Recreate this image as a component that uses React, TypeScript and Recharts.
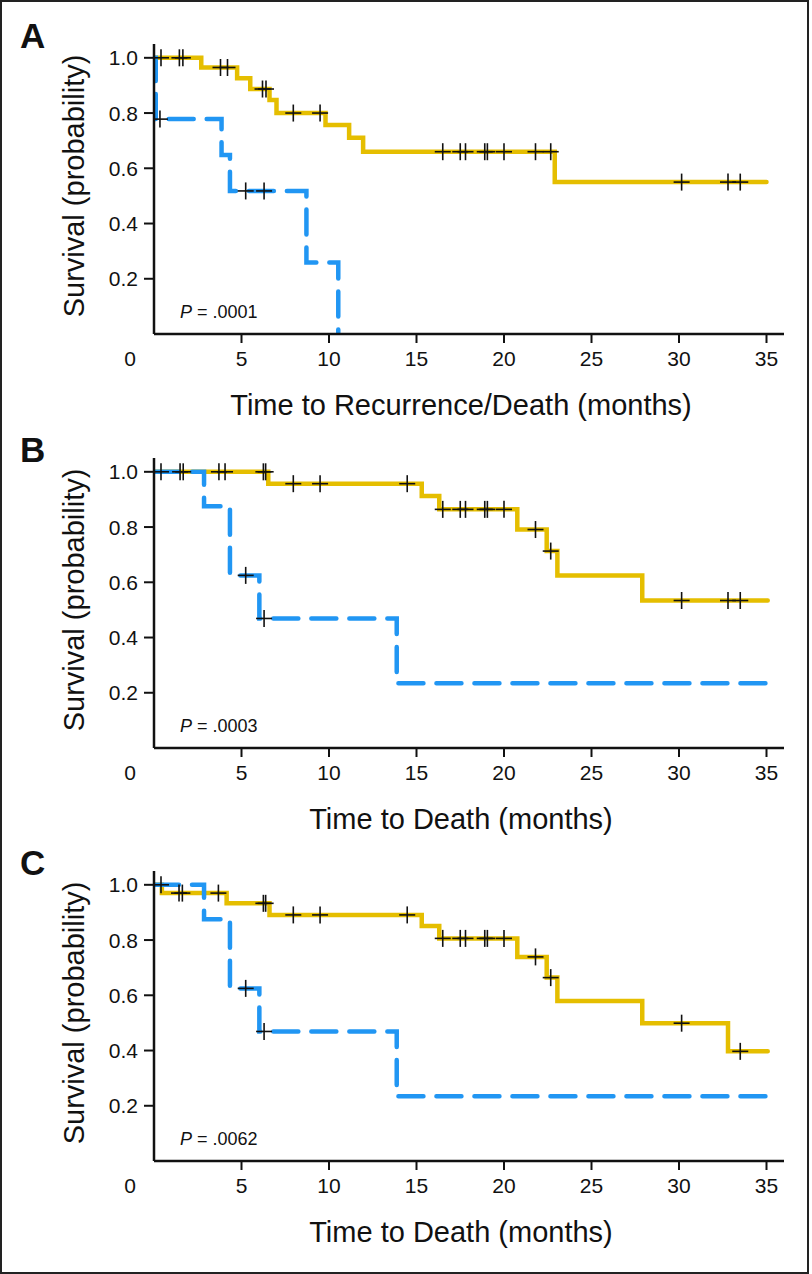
import React from 'react';
import { ComposedChart, Line, Scatter, XAxis, YAxis, Customized } from 'recharts';

// ---------- data ----------
const xTicks = [0, 5, 10, 15, 20, 25, 30, 35];
const yTicks = [0.2, 0.4, 0.6, 0.8, 1.0];

// Panel A
const aGoldTime = [0, 2.7, 4.75, 5.5, 6.6, 7.0, 9.8, 11.15, 11.95, 22.9, 35];
const aGoldSurv = [1, 0.965, 0.926, 0.887, 0.847, 0.8, 0.757, 0.711, 0.66, 0.55, 0.55];
const aBlueTime = [0, 0.1, 3.86, 4.34, 8.71, 10.53];
const aBlueSurv = [1, 0.778, 0.648, 0.518, 0.259, 0];
const aCensorTime = [0.4, 1.45, 1.65, 3.8, 4.2, 6.2, 6.4, 7.96, 9.49, 16.5, 17.5, 17.8, 18.9, 19.05, 20.0, 21.8, 22.67, 30.15, 32.8, 33.5, 0.34, 5.24, 6.29];
const aCensorSurv = [1, 1, 1, 0.965, 0.965, 0.887, 0.887, 0.8, 0.8, 0.66, 0.66, 0.66, 0.66, 0.66, 0.66, 0.66, 0.66, 0.55, 0.55, 0.55, 0.778, 0.518, 0.518];

// Panel B
const bGoldTime = [0, 6.53, 15.3, 16.3, 20.76, 22.44, 23.05, 27.9, 35.07];
const bGoldSurv = [1, 0.957, 0.912, 0.864, 0.791, 0.713, 0.625, 0.534, 0.534];
const bBlueTime = [0, 2.86, 4.34, 6.02, 13.87, 35];
const bBlueSurv = [1, 0.875, 0.625, 0.469, 0.234, 0.234];
const bCensorTime = [0.4, 1.49, 1.67, 3.71, 4.06, 6.25, 6.38, 7.96, 9.49, 14.47, 16.5, 17.5, 17.8, 18.9, 19.05, 20.0, 21.8, 22.67, 30.15, 32.8, 33.5, 5.24, 6.29];
const bCensorSurv = [1, 1, 1, 1, 1, 1, 1, 0.957, 0.957, 0.957, 0.864, 0.864, 0.864, 0.864, 0.864, 0.864, 0.791, 0.713, 0.534, 0.534, 0.534, 0.625, 0.469];

// Panel C
const cGoldTime = [0, 0.45, 4.15, 6.6, 15.3, 16.3, 20.76, 22.44, 23.05, 27.9, 32.8, 35.07];
const cGoldSurv = [1, 0.97, 0.933, 0.891, 0.851, 0.806, 0.739, 0.664, 0.579, 0.499, 0.397, 0.397];
const cBlueTime = [0, 2.86, 4.34, 6.02, 13.87, 35];
const cBlueSurv = [1, 0.875, 0.625, 0.469, 0.234, 0.234];
const cCensorTime = [0.4, 1.43, 1.62, 3.68, 6.25, 6.38, 7.96, 9.49, 14.47, 16.5, 17.5, 17.8, 18.9, 19.05, 20.0, 21.8, 22.67, 30.15, 33.5, 5.24, 6.29];
const cCensorSurv = [1, 0.97, 0.97, 0.97, 0.933, 0.933, 0.891, 0.891, 0.891, 0.806, 0.806, 0.806, 0.806, 0.806, 0.806, 0.739, 0.664, 0.499, 0.397, 0.625, 0.469];

const panelLetters = ['A', 'B', 'C'];
const xTitles = ['Time to Recurrence/Death (months)', 'Time to Death (months)', 'Time to Death (months)'];
const yTitle = 'Survival (probability)';
const pValues = ['.0001', '.0003', '.0062'];

// ---------- styling / layout ----------
const GOLD = '#E5BE00';
const BLUE = '#2196F3';
const INK = '#111111';
const FONT = '"Liberation Sans", Arial, Helvetica, sans-serif';

const CHART_W = 809;
const CHART_H = 430;
const M_TOP = 44;
const Y_W = 154;
const M_RIGHT = 25;
const X_H = 80;
const M_BOTTOM = 16;
const PLOT_L = Y_W;
const PLOT_R = CHART_W - M_RIGHT;
const PLOT_B = CHART_H - M_BOTTOM - X_H;
const PANEL_TOPS = [0, 414, 827];

const toPts = (t: number[], s: number[]) => t.map((v, i) => ({ t: v, s: s[i] }));

const XTick = (props: any) => {
  const { x, y, payload } = props;
  const v = payload.value;
  if (v === 0) {
    return (
      <text x={x - 24} y={y + 24} textAnchor="middle" dominantBaseline="central" fontFamily={FONT} fontSize={21} fill={INK}>
        0
      </text>
    );
  }
  return (
    <g>
      <line x1={x} x2={x} y1={y} y2={y + 9} stroke={INK} strokeWidth={2} />
      <text x={x} y={y + 24} textAnchor="middle" dominantBaseline="central" fontFamily={FONT} fontSize={21} fill={INK}>
        {v}
      </text>
    </g>
  );
};

const YTick = (props: any) => {
  const { x, y, payload } = props;
  return (
    <g>
      <line x1={x - 10} x2={x} y1={y} y2={y} stroke={INK} strokeWidth={2} />
      <text x={x - 16} y={y} textAnchor="end" dominantBaseline="central" fontFamily={FONT} fontSize={21} fill={INK}>
        {Number(payload.value).toFixed(1)}
      </text>
    </g>
  );
};

const Plus = (props: any) => {
  const { cx, cy } = props;
  if (cx == null || cy == null) return null;
  return (
    <g>
      <line x1={cx - 8} x2={cx + 8} y1={cy} y2={cy} stroke={INK} strokeWidth={1.6} />
      <line x1={cx} x2={cx} y1={cy - 8.5} y2={cy + 8.5} stroke={INK} strokeWidth={1.6} />
    </g>
  );
};

const Texts = ({ letter, xTitle, p }: { letter: string; xTitle: string; p: string }) => {
  const midY = (M_TOP + PLOT_B) / 2 - 3;
  return (
    <g fontFamily={FONT} fill={INK}>
      <text x={20} y={48} fontSize={35} fontWeight="bold">{letter}</text>
      <text
        x={74}
        y={midY}
        fontSize={29}
        textAnchor="middle"
        dominantBaseline="central"
        transform={`rotate(-90 74 ${midY})`}
      >
        {yTitle}
      </text>
      <text x={(PLOT_L + PLOT_R) / 2 - 8} y={PLOT_B + 81} fontSize={29} textAnchor="middle">
        {xTitle}
      </text>
      <text x={180} y={PLOT_B - 16} fontSize={18}>
        <tspan fontStyle="italic">P</tspan>
        {' = ' + p}
      </text>
    </g>
  );
};

type PanelProps = {
  idx: number;
  goldT: number[];
  goldS: number[];
  blueT: number[];
  blueS: number[];
  censT: number[];
  censS: number[];
};

const Panel = ({ idx, goldT, goldS, blueT, blueS, censT, censS }: PanelProps) => (
  <div style={{ position: 'absolute', left: 0, top: PANEL_TOPS[idx] }}>
    <ComposedChart
      width={CHART_W}
      height={CHART_H}
      margin={{ top: M_TOP, right: M_RIGHT, bottom: M_BOTTOM, left: 0 }}
    >
      <XAxis
        type="number"
        dataKey="t"
        domain={[0, 36]}
        ticks={xTicks}
        allowDataOverflow
        height={X_H}
        tickSize={0}
        tickMargin={0}
        tickLine={false}
        tick={<XTick />}
        axisLine={{ stroke: INK, strokeWidth: 2.5 }}
        interval={0}
      />
      <YAxis
        type="number"
        dataKey="s"
        domain={[0, 1.05]}
        ticks={yTicks}
        allowDataOverflow
        width={Y_W}
        tickSize={0}
        tickMargin={0}
        tickLine={false}
        tick={<YTick />}
        axisLine={{ stroke: INK, strokeWidth: 2.5 }}
        interval={0}
      />
      <Line
        data={toPts(goldT, goldS)}
        dataKey="s"
        type="stepAfter"
        stroke={GOLD}
        strokeWidth={4.5}
        strokeLinecap="round"
        dot={false}
        activeDot={false}
        isAnimationActive={false}
      />
      <Line
        data={toPts(blueT, blueS)}
        dataKey="s"
        type="stepAfter"
        stroke={BLUE}
        strokeWidth={4.5}
        strokeDasharray="25 13"
        strokeLinecap="round"
        dot={false}
        activeDot={false}
        isAnimationActive={false}
      />
      <Scatter
        data={toPts(censT, censS)}
        dataKey="s"
        shape={<Plus />}
        isAnimationActive={false}
      />
      <Customized component={<Texts letter={panelLetters[idx]} xTitle={xTitles[idx]} p={pValues[idx]} />} />
    </ComposedChart>
  </div>
);

export default function App() {
  return (
    <div style={{ position: 'absolute', left: 0, top: 0, width: 809, height: 1274, background: '#fff' }}>
      <div
        style={{
          position: 'absolute',
          left: 0,
          top: 0,
          width: 809,
          height: 1274,
          boxSizing: 'border-box',
          border: '2px solid #222',
        }}
      />
      <Panel idx={0} goldT={aGoldTime} goldS={aGoldSurv} blueT={aBlueTime} blueS={aBlueSurv} censT={aCensorTime} censS={aCensorSurv} />
      <Panel idx={1} goldT={bGoldTime} goldS={bGoldSurv} blueT={bBlueTime} blueS={bBlueSurv} censT={bCensorTime} censS={bCensorSurv} />
      <Panel idx={2} goldT={cGoldTime} goldS={cGoldSurv} blueT={cBlueTime} blueS={cBlueSurv} censT={cCensorTime} censS={cCensorSurv} />
    </div>
  );
}
